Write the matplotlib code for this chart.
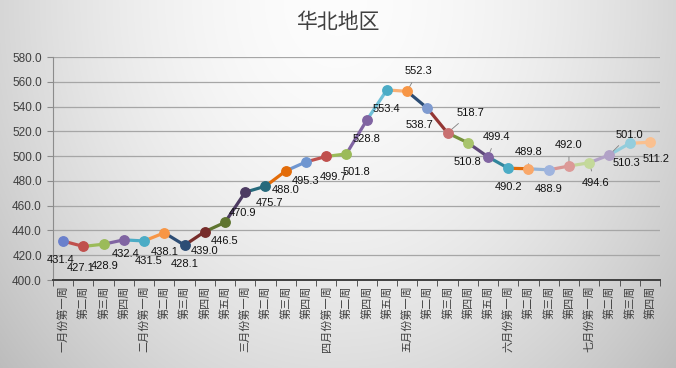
import numpy as np
import matplotlib
matplotlib.use("Agg")
import matplotlib.pyplot as plt

plt.rcParams['font.family'] = ['Noto Sans CJK SC', 'DejaVu Sans']

title = "华北地区"
categories = ["一月份第一周", "第二周", "第三周", "第四周",
              "二月份第一周", "第二周", "第三周", "第四周", "第五周",
              "三月份第一周", "第二周", "第三周", "第四周",
              "四月份第一周", "第二周", "第四周", "第五周",
              "五月份第一周", "第二周", "第三周", "第四周", "第五周",
              "六月份第一周", "第二周", "第三周", "第四周",
              "七月份第一周", "第二周", "第三周", "第四周"]
values = [431.4, 427.1, 428.9, 432.4, 431.5, 438.1, 428.1, 439.0, 446.5,
          470.9, 475.7, 488.0, 495.3, 499.7, 501.8, 528.8, 553.4,
          552.3, 538.7, 518.7, 510.8, 499.4, 490.2, 489.8, 488.9, 492.0,
          494.6, 501.0, 510.3, 511.2]
y_ticks = [400, 420, 440, 460, 480, 500, 520, 540, 560, 580]

# styling: per-point colours (Excel "vary colours by point")
line_colors = ["#4F81BD", "#C0504D", "#9BBB59", "#8064A2", "#4BACC6", "#F79646",
               "#2C4D75", "#772C2A", "#5F7530", "#4D3B62", "#276A7C", "#E36C09",
               "#6F96D0", "#C0504D", "#9BBB59", "#8064A2", "#6FC0D8", "#F9B074",
               "#2C4D75", "#943634", "#76923C", "#5F497A", "#31859C", "#E36C09",
               "#95B3D7", "#D99694", "#C3D69B", "#B3A2C7", "#92CDDC", "#FAC08F"]
marker_colors = ["#6A80CC", "#C0504D", "#9BBB59", "#8064A2", "#4BACC6", "#F79646",
                 "#2C4D75", "#772C2A", "#5F7530", "#4D3B62", "#276A7C", "#E36C09",
                 "#6F96D0", "#C0504D", "#9BBB59", "#8064A2", "#4BACC6", "#F79646",
                 "#7F9BD0", "#C87070", "#A8C46C", "#8064A2", "#4BACC6", "#F9A86A",
                 "#9FB4DE", "#DC9A98", "#C4D99A", "#B2A2C7", "#93CDDD", "#FAC090"]
# label offsets in pixels (dx, dy)
offsets = {i: (0, -19) for i in range(len(values))}
offsets.update({0: (-2, -19), 1: (-3, -22), 2: (1, -22), 3: (2, -14), 4: (5, -20),
                9: (-3, -21), 10: (4, -17),
                13: (7, -21), 14: (10, -18), 17: (11, 20), 18: (-8, -17),
                19: (23, 20), 21: (8, 20), 23: (0, 17), 25: (0, 21),
                26: (6, -20), 27: (20, 20), 28: (-3, -20), 29: (6, -17)})
leaders = {17, 19, 21, 23, 25, 26, 27}

W, H = 676, 368
fig = plt.figure(figsize=(W / 100, H / 100), dpi=100)

# background gradient
bg = fig.add_axes([0, 0, 1, 1], zorder=-10)
yy, xx = np.mgrid[0:H, 0:W]
d = np.sqrt(((xx - W * 0.5) / (W * 0.62)) ** 2 + ((yy - 0) / (H * 1.4)) ** 2)
g = np.clip(0.99 - 0.22 * d ** 1.8, 0.74, 1.0)
bg.imshow(np.dstack([g, g, g]), aspect='auto', extent=[0, 1, 0, 1], origin='upper')
bg.axis('off')

ax = fig.add_axes([53 / W, 1 - 280 / H, (660 - 53) / W, (280 - 57) / H])
ax.patch.set_alpha(0)
x = np.arange(len(values))

for i in range(1, len(values)):
    ax.plot(x[i - 1:i + 1], values[i - 1:i + 1], color=line_colors[i], lw=2.3,
            solid_capstyle='round', zorder=3)
for i in range(len(values)):
    ax.plot(x[i], values[i], 'o', ms=6.8, color=marker_colors[i], mec=marker_colors[i], zorder=4)

lab_font = ['Liberation Sans', 'DejaVu Sans']
for i, v in enumerate(values):
    dx, dy = offsets[i]
    kw = dict(xytext=(dx, dy), textcoords='offset pixels', ha='center', va='center',
              fontsize=8, color='#111111', family=lab_font)
    if i in leaders:
        kw['arrowprops'] = dict(arrowstyle='-', color='#7f7f7f', lw=0.6, shrinkA=3, shrinkB=1)
    ax.annotate(f"{v:.1f}", (x[i], v), **kw)

ax.set_xlim(-0.5, len(values) - 0.5)
ax.set_ylim(400, 580)
ax.set_yticks(y_ticks)
ax.set_yticklabels([f"{t:.1f}" for t in y_ticks], fontsize=8.5, color='#404040',
                   family=lab_font)
ax.yaxis.grid(True, color='#a6a6a6', lw=0.9)
ax.set_axisbelow(True)

ax.set_xticks(x)
ax.set_xticklabels(categories, rotation=90, fontsize=8, color='#404040', va='top')
ax.set_xticks(np.arange(-0.5, len(values) + 0.5, 1), minor=True)
ax.tick_params(axis='x', which='major', length=0, pad=4)
ax.tick_params(axis='x', which='minor', length=4, color='#404040', direction='out')
ax.tick_params(axis='y', length=4, color='#8c8c8c', direction='out', pad=4)

for s in ['top', 'right']:
    ax.spines[s].set_visible(False)
ax.spines['left'].set_color('#8c8c8c')
ax.spines['bottom'].set_color('#404040')
ax.spines['bottom'].set_linewidth(1.4)

fig.text(0.5, 1 - 22 / H, title, ha='center', va='center', fontsize=15,
         color='#404040')

fig.savefig("out.png", dpi=100)
